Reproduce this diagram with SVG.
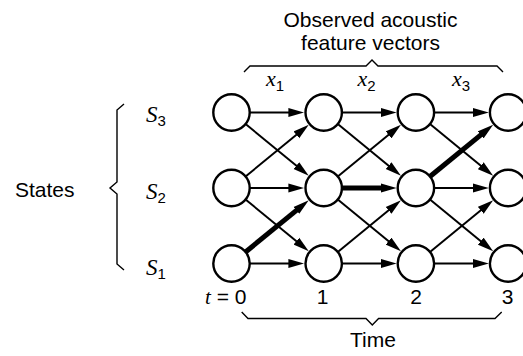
<svg xmlns="http://www.w3.org/2000/svg" width="523" height="356" viewBox="0 0 523 356">
<defs>
<style>
.node{fill:#fff;stroke:#000;stroke-width:2.4}
.e{stroke:#000;stroke-width:2;fill:none;marker-end:url(#ah)}
.t{stroke-width:5}
.br{fill:none;stroke:#000;stroke-width:1.4;stroke-linejoin:miter}
.sans{font-family:"Liberation Sans",Arial,sans-serif;fill:#000}
.ital{font-family:"Liberation Serif","Times New Roman",serif;font-style:italic;fill:#000}
</style>
<marker id="ah" markerUnits="userSpaceOnUse" viewBox="0 -5 16 10" refX="6" refY="0" markerWidth="16" markerHeight="10" orient="auto">
<path d="M0,-4.5 L16,0 L0,4.5 z" fill="#000"/>
</marker>
</defs>
<rect width="523" height="356" fill="#fff"/>
<g id="labels">
<text class="sans" x="370.5" y="27" font-size="21" text-anchor="middle">Observed acoustic</text>
<text class="sans" x="370.5" y="50" font-size="21" text-anchor="middle">feature vectors</text>
<text class="sans" x="15" y="197" font-size="21">States</text>
<text class="sans" x="373" y="347" font-size="21" text-anchor="middle">Time</text>
<text x="266" y="86"><tspan class="ital" font-size="22">x</tspan><tspan class="sans" font-size="15" dy="5">1</tspan></text>
<text x="357.5" y="86"><tspan class="ital" font-size="22">x</tspan><tspan class="sans" font-size="15" dy="5">2</tspan></text>
<text x="452" y="86"><tspan class="ital" font-size="22">x</tspan><tspan class="sans" font-size="15" dy="5">3</tspan></text>
<text x="146" y="122"><tspan class="ital" font-size="23">S</tspan><tspan class="sans" font-size="15" dy="4">3</tspan></text>
<text x="146" y="199"><tspan class="ital" font-size="23">S</tspan><tspan class="sans" font-size="15" dy="4">2</tspan></text>
<text x="146" y="275"><tspan class="ital" font-size="23">S</tspan><tspan class="sans" font-size="15" dy="4">1</tspan></text>
<text x="205" y="304"><tspan class="ital" font-size="21">t</tspan><tspan class="sans" font-size="21"> = 0</tspan></text>
<text class="sans" x="322.5" y="304" font-size="21" text-anchor="middle">1</text>
<text class="sans" x="416" y="304" font-size="21" text-anchor="middle">2</text>
<text class="sans" x="507.5" y="304" font-size="21" text-anchor="middle">3</text>
</g>
<g id="braces">
<path class="br" d="M244,72 L250,66 L366,66 L372,60 L378,66 L497,66 L503,72"/>
<path class="br" d="M124,104 L117,110 L117,182 L110,188 L117,194 L117,264 L124,270"/>
<path class="br" d="M241.7,312 L248,318.5 L366,318.5 L372.3,325 L378.6,318.5 L495,318.5 L501.7,312"/>
</g>
<g id="connectors">
<line class="e" x1="249.7" y1="112.5" x2="294.4" y2="112.5"/>
<line class="e" x1="245.58" y1="124.03" x2="301.03" y2="169.44"/>
<line class="e" x1="245.58" y1="176.47" x2="301.03" y2="131.06"/>
<line class="e" x1="249.7" y1="188" x2="294.4" y2="188"/>
<line class="e" x1="245.58" y1="199.53" x2="301.03" y2="244.94"/>
<line class="e t" x1="245.58" y1="251.97" x2="301.03" y2="206.56"/>
<line class="e" x1="249.7" y1="263.5" x2="294.4" y2="263.5"/>
<line class="e" x1="341.9" y1="112.5" x2="386.6" y2="112.5"/>
<line class="e" x1="337.78" y1="124.03" x2="393.23" y2="169.44"/>
<line class="e" x1="337.78" y1="176.47" x2="393.23" y2="131.06"/>
<line class="e t" x1="341.9" y1="188" x2="386.6" y2="188"/>
<line class="e" x1="337.78" y1="199.53" x2="393.23" y2="244.94"/>
<line class="e" x1="337.78" y1="251.97" x2="393.23" y2="206.56"/>
<line class="e" x1="341.9" y1="263.5" x2="386.6" y2="263.5"/>
<line class="e" x1="434.1" y1="112.5" x2="478.8" y2="112.5"/>
<line class="e" x1="429.98" y1="124.03" x2="485.43" y2="169.44"/>
<line class="e t" x1="429.98" y1="176.47" x2="485.43" y2="131.06"/>
<line class="e" x1="434.1" y1="188" x2="478.8" y2="188"/>
<line class="e" x1="429.98" y1="199.53" x2="485.43" y2="244.94"/>
<line class="e" x1="429.98" y1="251.97" x2="485.43" y2="206.56"/>
<line class="e" x1="434.1" y1="263.5" x2="478.8" y2="263.5"/>
</g>
<g id="n-0-3"><circle class="node" cx="231.5" cy="112.5" r="18.2"/></g>
<g id="n-0-2"><circle class="node" cx="231.5" cy="188" r="18.2"/></g>
<g id="n-0-1"><circle class="node" cx="231.5" cy="263.5" r="18.2"/></g>
<g id="n-1-3"><circle class="node" cx="323.7" cy="112.5" r="18.2"/></g>
<g id="n-1-2"><circle class="node" cx="323.7" cy="188" r="18.2"/></g>
<g id="n-1-1"><circle class="node" cx="323.7" cy="263.5" r="18.2"/></g>
<g id="n-2-3"><circle class="node" cx="415.9" cy="112.5" r="18.2"/></g>
<g id="n-2-2"><circle class="node" cx="415.9" cy="188" r="18.2"/></g>
<g id="n-2-1"><circle class="node" cx="415.9" cy="263.5" r="18.2"/></g>
<g id="n-3-3"><circle class="node" cx="508.1" cy="112.5" r="18.2"/></g>
<g id="n-3-2"><circle class="node" cx="508.1" cy="188" r="18.2"/></g>
<g id="n-3-1"><circle class="node" cx="508.1" cy="263.5" r="18.2"/></g>
</svg>
